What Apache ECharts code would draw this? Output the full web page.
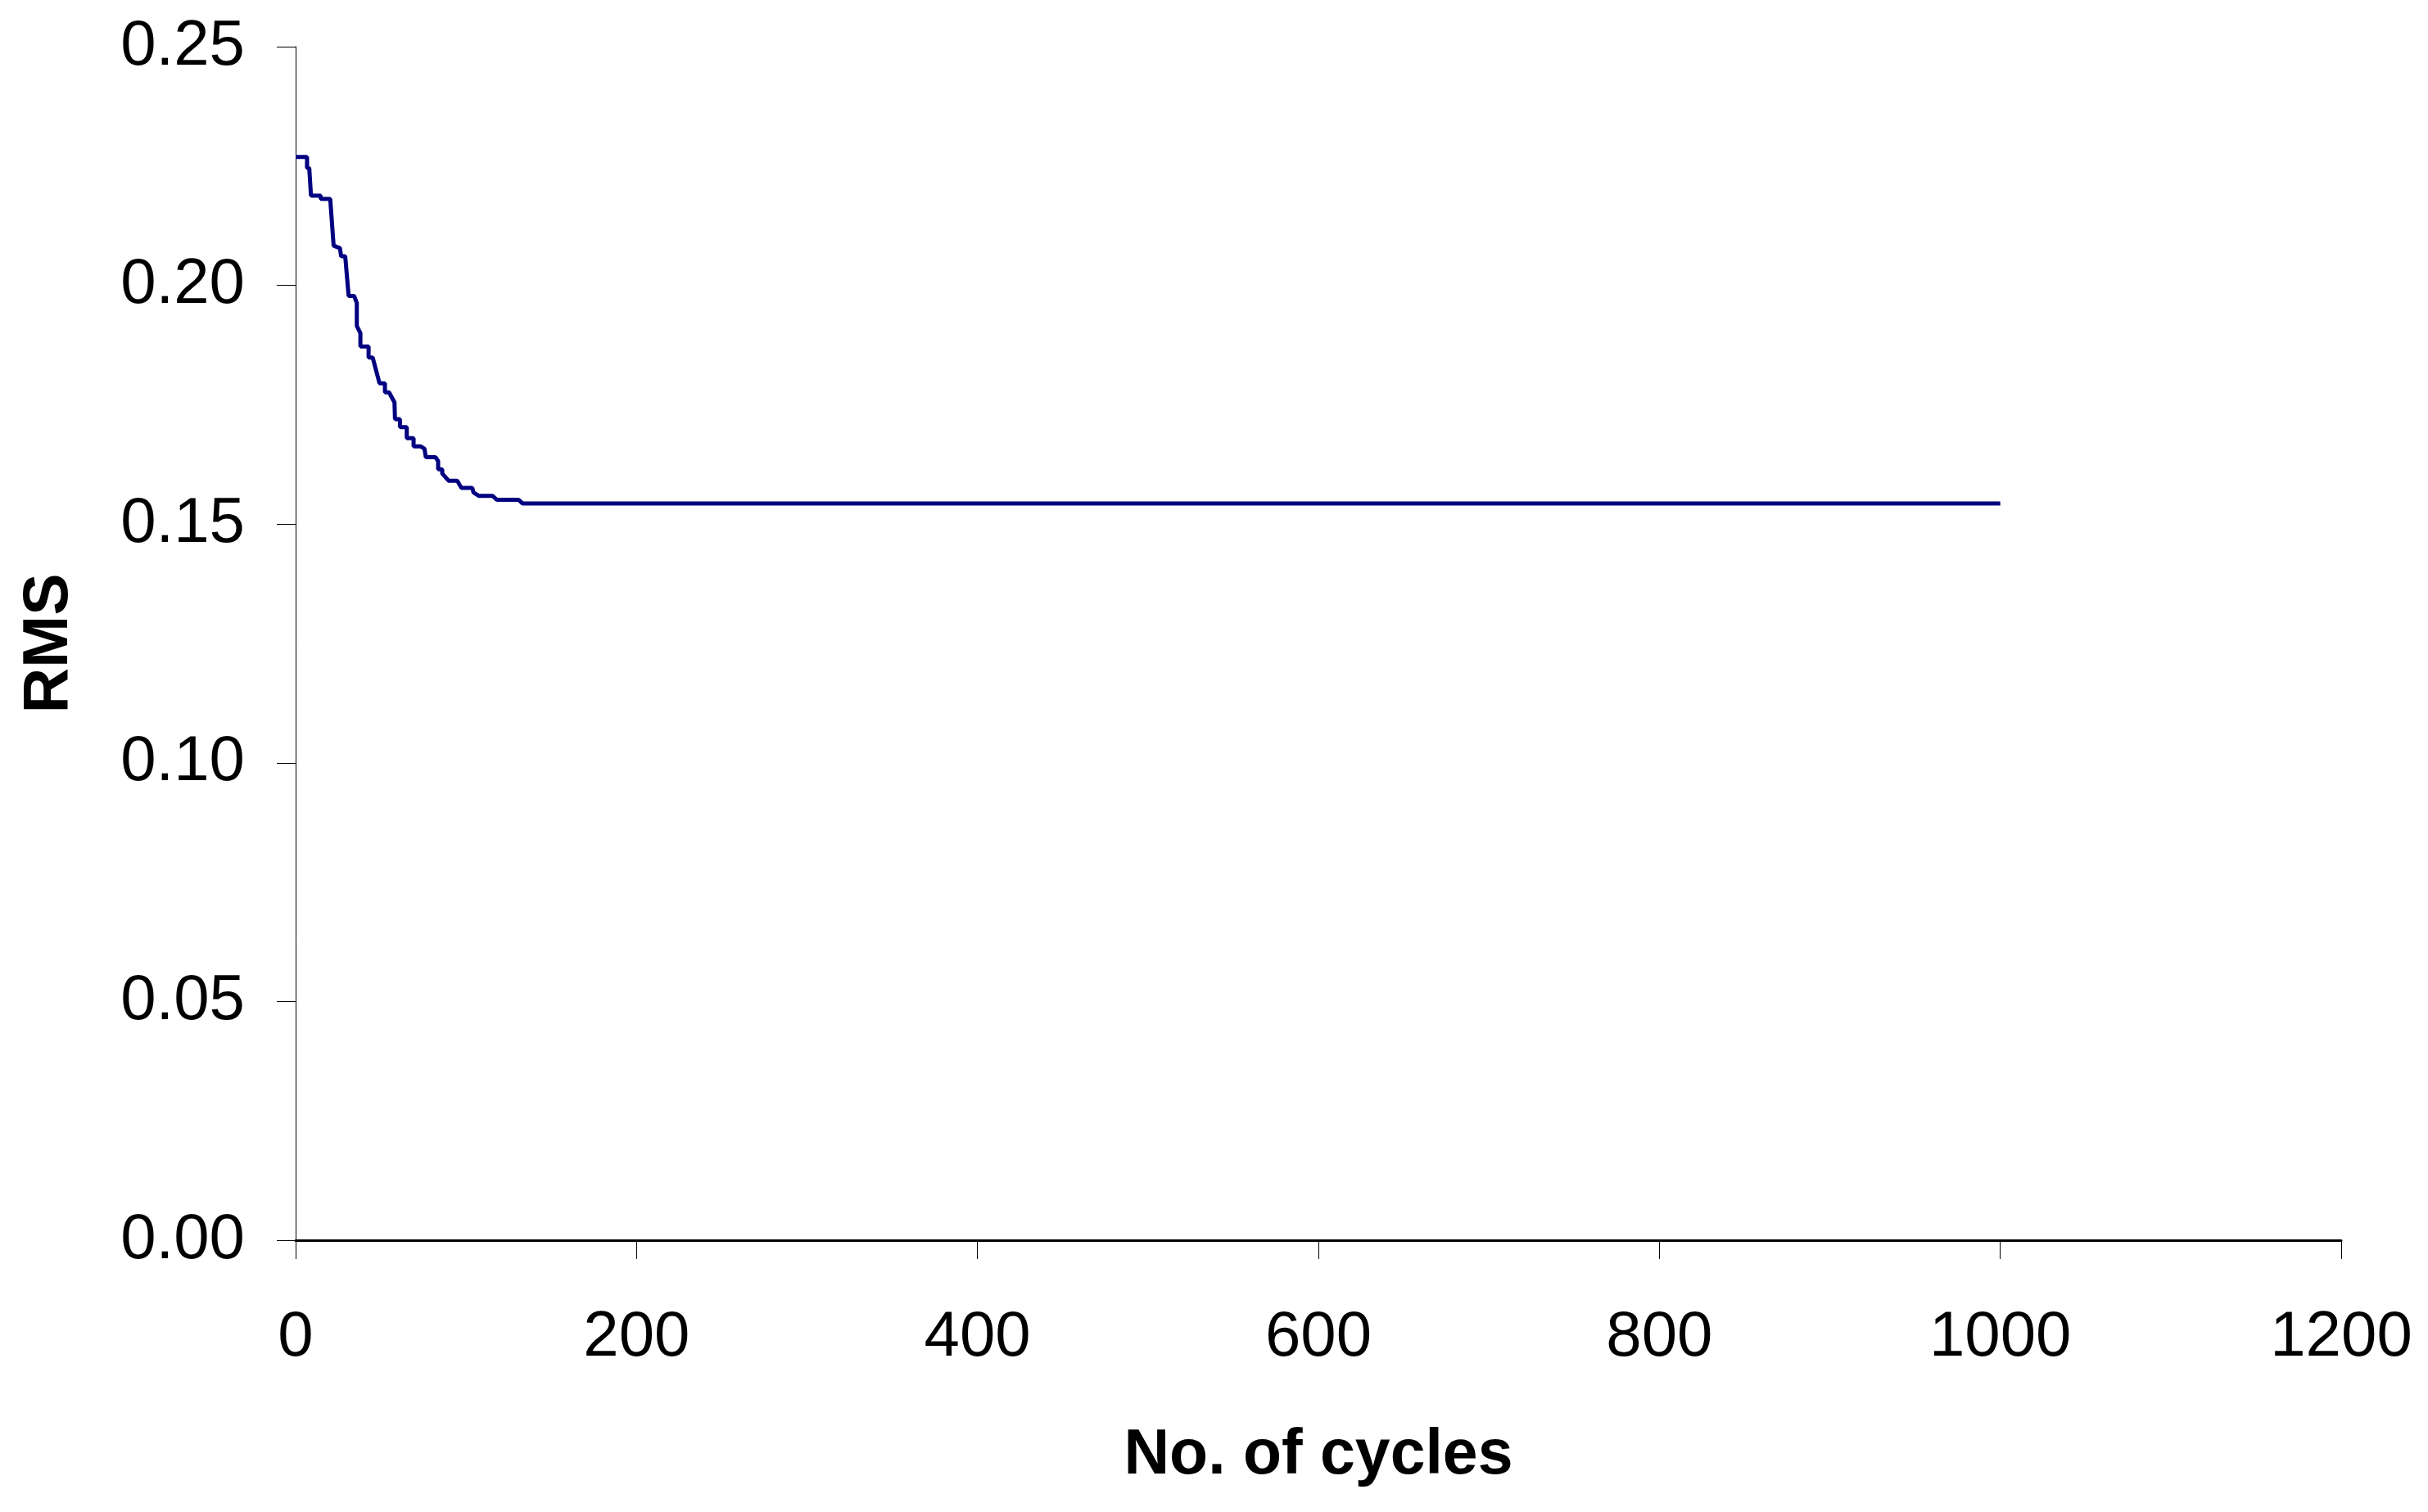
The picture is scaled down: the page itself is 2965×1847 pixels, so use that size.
<!DOCTYPE html>
<html>
<head>
    <meta charset="utf-8">
    <title>RMS vs cycles</title>
    <style type="text/css">
        * {
            margin: 0;
            padding: 0;
        }
        body {
            background: #ffffff;
        }
    </style>
</head>
<body>
    <div id="main" style="width: 2965px; height: 1847px;"></div>

    <script src="https://cdn.jsdelivr.net/npm/echarts@6/dist/echarts.min.js"></script>
    <script type="text/javascript">
        // cycle numbers where the curve changes (repeated x = vertical drop)
        var cycles = [0, 6.7, 6.7, 8, 9, 14.7, 14.7, 20.3, 22.3, 26, 26.7, 29.1, 31.1, 34.3, 35.9, 35.9,
            38, 38, 42.8, 42.8, 45.2, 49.2, 52.4, 52.4, 54.8, 58, 58.3, 61.2, 61.2, 65.2, 65.2,
            69.2, 69.2, 73.2, 75.6, 76.4, 82, 83.6, 83.6, 86, 86, 89.7, 94.8, 97.2, 103.6, 104.4,
            107.6, 115.6, 118, 130.8, 133.2, 1000];
        var rms = [0.2269, 0.2269, 0.2246, 0.2246, 0.2188, 0.2188, 0.2181, 0.2181, 0.2083, 0.2078, 0.2061, 0.2061, 0.1978, 0.1978, 0.1963, 0.1915,
            0.1900, 0.1872, 0.1872, 0.1849, 0.1849, 0.1795, 0.1795, 0.1776, 0.1776, 0.1755, 0.1720, 0.1720, 0.1703, 0.1703, 0.1680,
            0.1680, 0.1663, 0.1663, 0.1658, 0.1640, 0.1640, 0.1632, 0.1615, 0.1615, 0.1606, 0.1591, 0.1591, 0.1576, 0.1576, 0.1566,
            0.1559, 0.1559, 0.1551, 0.1551, 0.1543, 0.1543];

        var xTicks = [0, 200, 400, 600, 800, 1000, 1200];
        var yTicks = [0, 0.05, 0.10, 0.15, 0.20, 0.25];

        var points = [];
        for (var i = 0; i < cycles.length; i++) {
            points.push([cycles[i], rms[i]]);
        }

        var chart = echarts.init(document.getElementById('main'));

        var option = {
            animation: false,
            backgroundColor: '#ffffff',
            grid: {
                left: 361,
                right: 106,
                top: 57,
                bottom: 332
            },
            xAxis: {
                type: 'value',
                min: xTicks[0],
                max: xTicks[xTicks.length - 1],
                interval: 200,
                name: 'No. of cycles',
                nameLocation: 'middle',
                nameGap: 225,
                nameTextStyle: {
                    fontFamily: 'Liberation Sans',
                    fontWeight: 'bold',
                    fontSize: 77,
                    color: '#000'
                },
                axisLine: {
                    lineStyle: { color: '#000', width: 3 }
                },
                axisTick: {
                    length: 23,
                    lineStyle: { color: '#000', width: 1 }
                },
                axisLabel: {
                    margin: 80,
                    fontFamily: 'Liberation Sans',
                    fontSize: 78,
                    color: '#000',
                    formatter: function (v) { return String(v); }
                },
                splitLine: { show: false }
            },
            yAxis: {
                type: 'value',
                min: yTicks[0],
                max: yTicks[yTicks.length - 1],
                interval: 0.05,
                name: 'RMS',
                nameLocation: 'middle',
                nameGap: 262,
                nameTextStyle: {
                    fontFamily: 'Liberation Sans',
                    fontWeight: 'bold',
                    fontSize: 77,
                    color: '#000'
                },
                axisLine: {
                    show: true,
                    lineStyle: { color: '#000', width: 1 }
                },
                axisTick: {
                    show: true,
                    length: 23,
                    lineStyle: { color: '#000', width: 1 }
                },
                axisLabel: {
                    margin: 62,
                    fontFamily: 'Liberation Sans',
                    fontSize: 78,
                    color: '#000',
                    formatter: function (v) { return v.toFixed(2); }
                },
                splitLine: { show: false }
            },
            series: [{
                name: 'RMS',
                type: 'line',
                data: points,
                showSymbol: false,
                symbol: 'none',
                lineStyle: { color: '#000080', width: 5 }
            }]
        };

        chart.setOption(option);
    </script>
</body>
</html>
